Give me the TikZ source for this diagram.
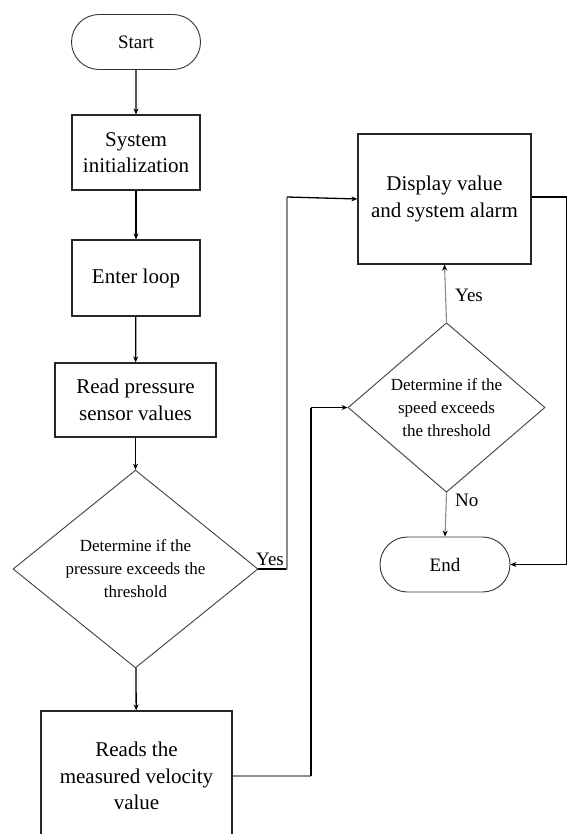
\documentclass[tikz,border=0pt]{standalone}
\usepackage{fontspec}
\setmainfont{Liberation Serif}
\usetikzlibrary{shapes.geometric,shapes.misc,arrows.meta}
\begin{document}
\begin{tikzpicture}[x=1pt,y=-1pt,
  box/.style={draw=black!85,line width=1.2pt,rectangle,inner sep=0pt,align=center,font=\fontsize{21}{26.5}\selectfont},
  term/.style={draw=black!80,line width=0.9pt,rounded rectangle,inner sep=0pt,align=center,font=\fontsize{19}{23}\selectfont},
  dec/.style={draw=black!75,line width=0.9pt,diamond,inner sep=0pt,align=center,font=\fontsize{17}{23}\selectfont},
  flow/.style={draw=black,line width=1.3pt,-{Stealth[length=6pt,width=5pt]}},
  blk/.style={draw=black,line width=1.3pt},
  gry/.style={draw=black!45,line width=1.1pt},
  gflow/.style={draw=black!45,line width=1.1pt,-{Stealth[length=6pt,width=5pt,fill=black,color=black]}},
  lab/.style={font=\fontsize{19}{22}\selectfont,inner sep=0pt}]
\useasboundingbox (0,0) rectangle (568,834);
\clip (0,0) rectangle (568,834);
\fill[white] (0,0) rectangle (568,834);
% nodes
\node[term,minimum width=129pt,minimum height=55pt] (start) at (136,42) {Start};
\node[box,minimum width=128pt,minimum height=75pt] (init) at (136,152.5) {System\\initialization};
\node[box,minimum width=128pt,minimum height=76pt] (loop) at (136,278) {Enter loop};
\node[box,minimum width=161pt,minimum height=74pt] (read) at (135.5,400) {Read pressure\\sensor values};
\node[dec,minimum width=245pt,minimum height=188pt] (d1) at (135.5,569) {Determine if the\\pressure exceeds the\\threshold};
\node[box,minimum width=191pt,minimum height=130pt] (vel) at (136.5,776) {Reads the\\measured velocity\\value};
\node[box,minimum width=173pt,minimum height=130pt] (disp) at (444.5,199) {Display value\\and system alarm};
\node[dec,minimum width=197pt,minimum height=149pt] (d2) at (446.5,407.5) {Determine if the\\speed exceeds\\the threshold};
\node[term,minimum width=130pt,minimum height=55pt] (end) at (445,564.5) {End};
% labels
\node[lab,anchor=south west] (yes1) at (256,566) {Yes};
\node[lab,anchor=west] (yes2) at (455,295) {Yes};
\node[lab,anchor=west] (no2) at (455,500) {No};
% coordinates
\coordinate (c1) at (287,569);
\coordinate (c2) at (287,197);
\coordinate (c3) at (311,776);
\coordinate (c4) at (311,407.5);
\coordinate (c5) at (566.5,197);
\coordinate (c6) at (566.5,564.5);
% connectors
\draw[flow] (start) -- (init);
\draw[flow] (init) -- (loop);
\draw[flow] (loop) -- (read);
\draw[flow] (read) -- (d1);
\draw[flow] (d1) -- (vel);
\draw[blk] (d1.east) -- (c1);
\draw[gry] (c1) -- (c2);
\draw[flow] (c2) -- (disp.west);
\draw[gry] (vel.east |- c3) -- (c3);
\draw[blk] (c3) -- (c4);
\draw[flow] (c4) -- (d2.west);
\draw[gflow] (d2.north) -- (disp.south);
\draw[gflow] (d2.south) -- (end.north);
\draw[blk] (disp.east |- c5) -- (c5) -- (c6);
\draw[flow] (c6) -- (end.east);
\end{tikzpicture}
\end{document}
